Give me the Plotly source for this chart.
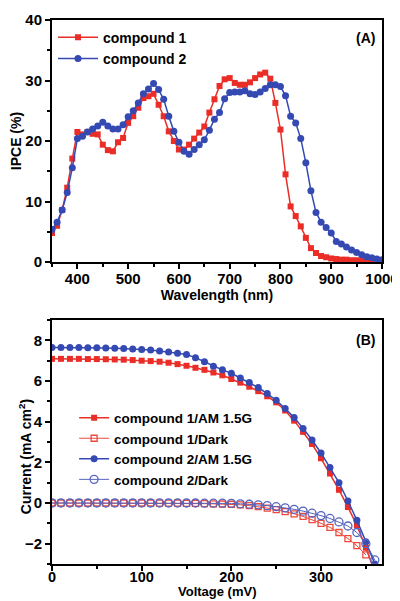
import plotly.graph_objects as go

# ---------------- Panel A data ----------------
wavelength = list(range(350, 1001, 10))
ipce_c1 = [4.8, 6.0, 8.6, 12.3, 17.1, 21.5, 21.1, 21.5, 21.2, 21.1,
           19.4, 18.5, 18.3, 19.8, 20.5, 23.0, 24.1, 25.5, 27.1, 27.4,
           27.8, 26.0, 24.1, 21.6, 20.0, 18.6, 18.6, 19.4, 20.4, 21.4,
           22.4, 24.7, 26.9, 29.1, 30.2, 30.4, 29.6, 29.3, 29.3, 29.7,
           30.4, 31.0, 31.3, 30.3, 26.3, 21.9, 14.5, 9.2, 7.6, 5.9,
           4.0, 2.3, 1.5, 1.0, 0.8, 0.6, 0.5, 0.4, 0.4, 0.3,
           0.3, 0.2, 0.2, 0.2, 0.1, 0.1]
ipce_c2 = [5.4, 6.6, 8.6, 11.5, 15.6, 20.4, 20.8, 21.5, 22.0, 22.5,
           23.1, 22.5, 22.0, 22.0, 22.7, 24.0, 25.0, 26.3, 27.8, 28.6,
           29.5, 28.5, 26.9, 24.1, 21.6, 19.8, 18.3, 17.8, 18.6, 19.4,
           20.2, 21.8, 23.6, 24.7, 27.0, 28.0, 28.1, 28.1, 28.3, 27.8,
           27.7, 28.1, 28.7, 29.3, 29.3, 29.0, 27.5, 24.1, 23.0, 20.4,
           16.4, 11.8, 8.2, 6.6, 5.7, 4.8, 3.4, 3.0, 2.5, 2.0,
           1.6, 1.2, 0.9, 0.7, 0.5, 0.4]

# ---------------- Panel B data ----------------
voltage = list(range(0, 361, 10))
j_c1_light = [7.09, 7.09, 7.09, 7.09, 7.08, 7.08, 7.07, 7.06, 7.05, 7.03,
              7.00, 6.98, 6.95, 6.90, 6.83, 6.75, 6.65, 6.55, 6.42, 6.28,
              6.10, 5.92, 5.72, 5.50, 5.25, 4.95, 4.55, 4.05, 3.50, 2.90,
              2.20, 1.45, 0.65, -0.20, -1.10, -2.20, -3.40]
j_c2_light = [7.65, 7.65, 7.65, 7.65, 7.64, 7.63, 7.62, 7.61, 7.60, 7.58,
              7.55, 7.52, 7.48, 7.43, 7.37, 7.30, 7.15, 6.95, 6.73, 6.55,
              6.38, 6.15, 5.93, 5.68, 5.38, 5.05, 4.65, 4.20, 3.67, 3.10,
              2.46, 1.75, 1.00, 0.10, -0.85, -1.90, -3.00]
voltage_c1_dark = list(range(0, 351, 10))
j_c1_dark = [0.0, 0.0, 0.0, 0.0, 0.0, 0.0, 0.0, 0.0, 0.0, 0.0,
             0.0, 0.0, -0.01, -0.01, -0.01, -0.02, -0.02, -0.03, -0.04, -0.05,
             -0.06, -0.09, -0.13, -0.18, -0.25, -0.33, -0.42, -0.53, -0.66, -0.82,
             -1.00, -1.20, -1.45, -1.75, -2.10, -2.55]
j_c2_dark = [0.0, 0.0, 0.0, 0.0, 0.0, 0.0, 0.0, 0.0, 0.0, 0.0,
             0.0, 0.0, 0.0, 0.0, 0.0, 0.0, 0.0, -0.01, -0.01, -0.01,
             -0.02, -0.04, -0.06, -0.09, -0.13, -0.18, -0.24, -0.31, -0.40, -0.50,
             -0.62, -0.76, -0.93, -1.13, -1.45, -2.00, -2.80]

xticks_a = [400, 500, 600, 700, 800, 900, 1000]
yticks_a = [0, 10, 20, 30, 40]
xticks_b = [0, 100, 200, 300]
yticks_b = [-2, 0, 2, 4, 6, 8]

RED = "#ea2d27"
BLUE = "#3549b3"
RED_L = "#ec4a3c"
BLUE_L = "#5564be"
FONT = "Liberation Sans"

fig = go.Figure()

fig.add_trace(go.Scatter(x=wavelength, y=ipce_c1, mode="lines+markers", name="compound 1",
                         line=dict(color=RED, width=1.5),
                         marker=dict(symbol="square", size=6, color=RED),
                         xaxis="x", yaxis="y", legend="legend"))
fig.add_trace(go.Scatter(x=wavelength, y=ipce_c2, mode="lines+markers", name="compound 2",
                         line=dict(color=BLUE, width=1.5),
                         marker=dict(symbol="circle", size=7, color=BLUE),
                         xaxis="x", yaxis="y", legend="legend"))

fig.add_trace(go.Scatter(x=voltage, y=j_c1_light, mode="lines+markers", name="compound 1/AM 1.5G",
                         line=dict(color=RED, width=1.5),
                         marker=dict(symbol="square", size=6, color=RED),
                         xaxis="x2", yaxis="y2", legend="legend2"))
fig.add_trace(go.Scatter(x=voltage_c1_dark, y=j_c1_dark, mode="lines+markers", name="compound 1/Dark",
                         line=dict(color=RED_L, width=1),
                         marker=dict(symbol="square-open", size=6, color=RED_L, line=dict(width=1.3)),
                         xaxis="x2", yaxis="y2", legend="legend2"))
fig.add_trace(go.Scatter(x=voltage, y=j_c2_light, mode="lines+markers", name="compound 2/AM 1.5G",
                         line=dict(color=BLUE, width=1.5),
                         marker=dict(symbol="circle", size=7, color=BLUE),
                         xaxis="x2", yaxis="y2", legend="legend2"))
fig.add_trace(go.Scatter(x=voltage, y=j_c2_dark, mode="lines+markers", name="compound 2/Dark",
                         line=dict(color=BLUE_L, width=1),
                         marker=dict(symbol="circle-open", size=8, color=BLUE_L, line=dict(width=1.3)),
                         xaxis="x2", yaxis="y2", legend="legend2"))

tickfont = dict(family=FONT, size=15, color="black", weight="bold")
titlefont = dict(family=FONT, size=14, color="black", weight="bold")
common = dict(showline=True, linecolor="black", linewidth=2, mirror=True,
              ticks="outside", ticklen=5, tickwidth=2, tickcolor="black",
              showgrid=False, zeroline=False, automargin=False)

# page body adds an 8px offset, so the figure is 392x593 and margins are shifted by 8px
fig.update_layout(
    width=392, height=593,
    margin=dict(l=44, r=18, t=12, b=37, autoexpand=False),
    paper_bgcolor="white", plot_bgcolor="white",
    xaxis=dict(domain=[0, 1], anchor="y", range=[350, 1000], tickvals=xticks_a,
               ticklabelstandoff=-3, tickfont=tickfont,
               minor=dict(ticks="outside", ticklen=3, tickwidth=2, dtick=50, tick0=350, tickcolor="black"),
               title=dict(text="Wavelength (nm)", font=titlefont, standoff=1), **common),
    yaxis=dict(domain=[0.555, 1], anchor="x", range=[0, 40], tickvals=yticks_a, tickfont=tickfont,
               minor=dict(ticks="outside", ticklen=3, tickwidth=2, dtick=5, tick0=0, tickcolor="black"),
               title=dict(text="IPCE (%)", font=titlefont, standoff=4), **common),
    xaxis2=dict(domain=[0, 1], anchor="y2", range=[0, 368], tickvals=xticks_b,
                ticklabelstandoff=-6, tickfont=dict(family=FONT, size=14.5, color="black", weight="bold"),
                minor=dict(ticks="outside", ticklen=3, tickwidth=2, dtick=50, tick0=0, tickcolor="black"),
                **common),
    yaxis2=dict(domain=[0, 0.4485], anchor="x2", range=[-3, 9], tickvals=yticks_b, tickfont=tickfont,
                minor=dict(ticks="outside", ticklen=3, tickwidth=2, dtick=1, tick0=0, tickcolor="black"),
                **common),
    legend=dict(x=0.003, y=0.997, xanchor="left", yanchor="top", bgcolor="rgba(0,0,0,0)",
                font=dict(family=FONT, size=14, color="black", weight="bold"),
                itemwidth=40, tracegroupgap=0),
    legend2=dict(x=0.067, y=0.297, xanchor="left", yanchor="top", bgcolor="rgba(0,0,0,0)",
                 font=dict(family=FONT, size=13.5, color="black", weight="bold"),
                 itemwidth=30, tracegroupgap=0),
    annotations=[
        dict(text="(A)", x=0.985, y=0.985, xref="paper", yref="paper", xanchor="right", yanchor="top",
             showarrow=False, font=dict(family=FONT, size=14, color="black", weight="bold")),
        dict(text="(B)", x=0.985, y=0.43, xref="paper", yref="paper", xanchor="right", yanchor="top",
             showarrow=False, font=dict(family=FONT, size=14, color="black", weight="bold")),
        dict(text="Voltage (mV)", x=0.5, y=-0.068, xref="paper", yref="paper", xanchor="center",
             yanchor="bottom", showarrow=False,
             font=dict(family=FONT, size=13, color="black", weight="bold")),
        dict(text="Current (mA cm<sup>2</sup>)", x=-0.082, y=0.198, xref="paper", yref="paper",
             xanchor="center", yanchor="middle", textangle=-90, showarrow=False,
             font=dict(family=FONT, size=14, color="black", weight="bold")),
    ],
)

fig.write_html("out.html")
